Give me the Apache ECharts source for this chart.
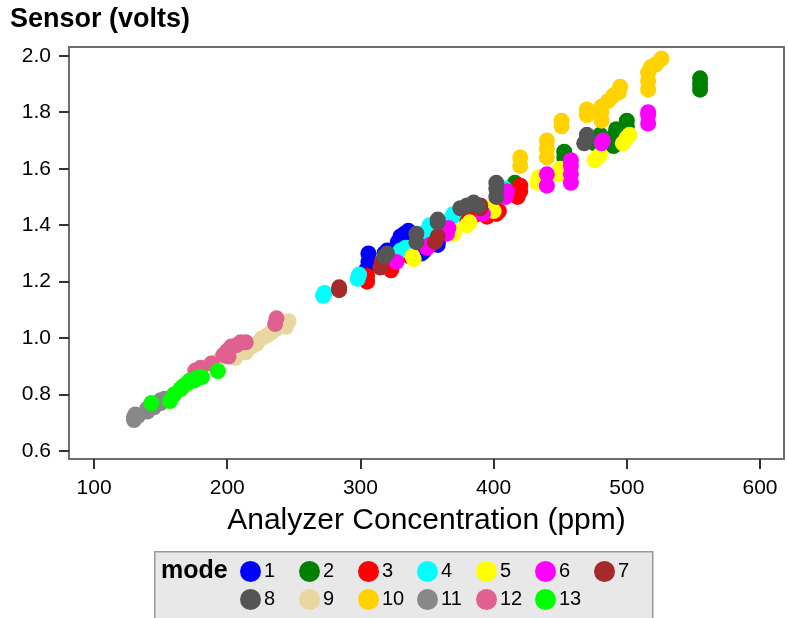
<!DOCTYPE html>
<html>
<head>
<meta charset="utf-8">
<script src="https://cdn.jsdelivr.net/npm/echarts@6/dist/echarts.min.js"></script>
<style>html,body{margin:0;padding:0;background:#fff;}#c{width:788px;height:618px;}</style>
</head>
<body>
<div id="c"></div>
<script>
// Tick labels
const xTicks = [100, 200, 300, 400, 500, 600];
const yTicks = [0.6, 0.8, 1.0, 1.2, 1.4, 1.6, 1.8, 2.0];
const modeNames = ['1','2','3','4','5','6','7','8','9','10','11','12','13'];
const modeColors = ['#0000ff','#008000','#ff0000','#00ffff','#ffff00','#ff00ff','#a52a2a','#555555','#e8d8a0','#ffd200','#888888','#e0608f','#00ff00'];

// [analyzer ppm, sensor volts] per mode
const mode1 = [[304,1.24],[306,1.27],[306,1.30],[318,1.30],[320,1.31],[328,1.34],[330,1.36],[333,1.37],[336,1.38],[346,1.30],[348,1.31],[358,1.33],[358,1.34]];
const mode2 = [[415,1.53],[416,1.55],[453,1.64],[453,1.66],[476,1.69],[478,1.71],[480,1.72],[490,1.68],[490,1.70],[491,1.72],[492,1.74],[500,1.75],[500,1.77],[555,1.88],[555,1.90],[555,1.92]];
const mode3 = [[305,1.20],[305,1.22],[323,1.24],[324,1.26],[337,1.29],[337,1.31],[380,1.42],[384,1.43],[388,1.44],[395,1.43],[402,1.44],[404,1.45],[418,1.50],[420,1.52],[420,1.54]];
const mode4 = [[272,1.15],[273,1.16],[298,1.21],[299,1.225],[330,1.31],[334,1.32],[347,1.37],[350,1.38],[352,1.40],[366,1.41],[369,1.43],[370,1.44],[408,1.53]];
const mode5 = [[339,1.29],[340,1.28],[370,1.37],[370,1.38],[380,1.40],[382,1.41],[395,1.46],[400,1.45],[433,1.55],[434,1.57],[449,1.58],[450,1.60],[476,1.63],[478,1.64],[480,1.65],[497,1.69],[500,1.71],[502,1.72]];
const mode6 = [[327,1.27],[350,1.32],[352,1.33],[365,1.37],[366,1.39],[392,1.44],[409,1.50],[410,1.52],[440,1.54],[440,1.58],[458,1.55],[458,1.58],[458,1.61],[458,1.63],[481,1.69],[482,1.70],[516,1.76],[516,1.79],[516,1.80]];
const mode7 = [[284,1.17],[284,1.18],[315,1.25],[316,1.27],[356,1.34],[358,1.36],[390,1.46],[390,1.47]];
const mode8 = [[318,1.29],[320,1.30],[342,1.34],[342,1.37],[358,1.41],[358,1.42],[375,1.46],[380,1.47],[385,1.48],[388,1.47],[402,1.50],[402,1.53],[402,1.55],[468,1.69],[470,1.71],[470,1.72]];
const mode9 = [[193,0.92],[206,0.93],[214,0.95],[218,0.97],[222,0.98],[226,1.00],[230,1.01],[233,1.02],[236,1.03],[244,1.04],[246,1.06]];
const mode10 = [[420,1.61],[420,1.64],[440,1.64],[440,1.67],[440,1.70],[451,1.75],[451,1.77],[470,1.79],[470,1.81],[481,1.77],[481,1.80],[481,1.82],[486,1.84],[490,1.86],[494,1.87],[495,1.89],[516,1.88],[516,1.91],[516,1.94],[518,1.96],[522,1.97],[526,1.99]];
const mode11 = [[130,0.71],[130,0.72],[131,0.73],[133,0.725],[140,0.74],[140,0.75],[145,0.755],[150,0.77],[150,0.78],[153,0.785]];
const mode12 = [[176,0.885],[180,0.895],[188,0.91],[197,0.94],[200,0.955],[201,0.935],[203,0.97],[207,0.975],[210,0.985],[214,0.985],[236,1.05],[237,1.07]];
const mode13 = [[143,0.77],[157,0.777],[160,0.80],[165,0.82],[167,0.83],[170,0.84],[172,0.85],[175,0.85],[178,0.86],[181,0.862],[193,0.883]];
const modeData = [mode1,mode2,mode3,mode4,mode5,mode6,mode7,mode8,mode9,mode10,mode11,mode12,mode13];

const sans = "'Liberation Sans',Arial,sans-serif";
// one legend entry per mode, laid out 7 per row
const legends = modeNames.map((n, i) => ({
  data: [n], left: 240 + (i % 7) * 59, top: 561 + Math.floor(i / 7) * 28, padding: 0,
  itemWidth: 21, itemHeight: 21, icon: 'circle', selectedMode: false,
  textStyle: {fontFamily: sans, fontSize: 20, color: '#000', padding: [0, 0, 0, -2]}
}));

const chart = echarts.init(document.getElementById('c'), null, {renderer:'canvas'});
chart.setOption({
  animation: false,
  backgroundColor: '#ffffff',
  title: {
    text: 'Sensor (volts)', left: 5, top: 1,
    textStyle: {fontFamily: sans, fontWeight: 'bold', fontSize: 27, color: '#000'}
  },
  grid: {left: 69, top: 47, right: 4, bottom: 159, show: true, borderColor: '#6e6e6e', borderWidth: 2, backgroundColor: '#fff'},
  xAxis: {
    type: 'value', min: 81.2, max: 618,
    name: 'Analyzer Concentration (ppm)', nameLocation: 'middle', nameGap: 47,
    nameTextStyle: {fontFamily: sans, fontSize: 30, color: '#000'},
    axisLine: {show: false},
    splitLine: {show: false},
    axisTick: {show: true, length: 10, customValues: xTicks, lineStyle: {color: '#333', width: 2}},
    axisLabel: {customValues: xTicks, margin: 19, fontFamily: sans, fontSize: 21, color: '#000'}
  },
  yAxis: {
    type: 'value', min: 0.572, max: 2.031,
    axisLine: {show: false},
    splitLine: {show: false},
    axisTick: {show: true, length: 10, customValues: yTicks, lineStyle: {color: '#333', width: 2}},
    axisLabel: {customValues: yTicks, margin: 18, fontFamily: sans, fontSize: 21, color: '#000', formatter: v => v.toFixed(1)}
  },
  legend: legends,
  graphic: [
    {type: 'rect', left: 154, top: 551, z: 0, shape: {width: 498, height: 80}, style: {fill: '#e8e8e8', stroke: '#999', lineWidth: 1.5}},
    {type: 'text', left: 161, top: 559, z: 1, style: {text: 'mode', font: "bold 25px 'Liberation Sans',Arial,sans-serif", fill: '#000'}}
  ],
  series: modeNames.map((n, i) => ({
    name: n, type: 'scatter', data: modeData[i], symbol: 'circle', symbolSize: 16,
    itemStyle: {color: modeColors[i], opacity: 1}
  }))
});
</script>
</body>
</html>
